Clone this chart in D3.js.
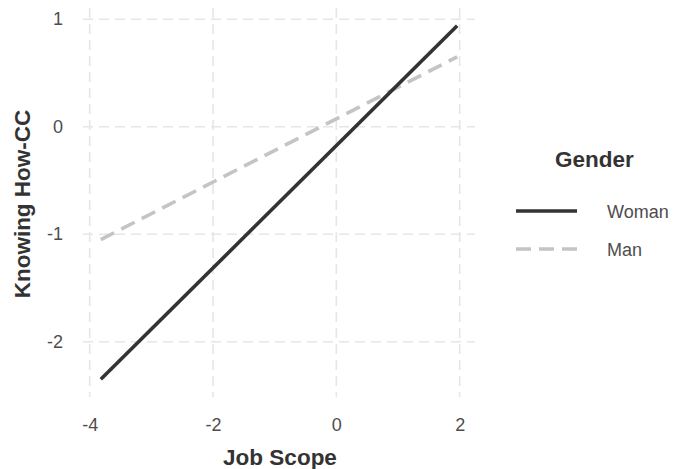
<!DOCTYPE html>
<html>
<head>
<meta charset="utf-8">
<script src="https://cdn.jsdelivr.net/npm/d3@7"></script>
<style>
  body { margin: 0; background: #fff; }
  text { font-family: "Liberation Sans", Arial, sans-serif; }
</style>
</head>
<body>
<svg id="chart"></svg>
<script>
// data
var genders = ["Woman", "Man"];
var jobScope = [-3.82, 1.96];
var womanValues = [-2.35, 0.94];
var manValues = [-1.05, 0.65];
var xTicks = [-4, -2, 0, 2];
var yTicks = [-2, -1, 0, 1];

var screen = {width: 673, height: 469};
var panel = {left: 83, right: 475, top: 8, bottom: 397};

var svg = d3.select("#chart")
    .attr("width", screen.width)
    .attr("height", screen.height);

// ggplot style 5% expansion
var xExt = d3.extent(jobScope);
var xPad = (xExt[1] - xExt[0]) * 0.05;
var allY = womanValues.concat(manValues);
var yExt = d3.extent(allY);
var yPad = (yExt[1] - yExt[0]) * 0.05;

var xScale = d3.scaleLinear()
    .domain([xExt[0] - xPad, xExt[1] + xPad])
    .range([panel.left, panel.right]);
var yScale = d3.scaleLinear()
    .domain([yExt[0] - yPad, yExt[1] + yPad])
    .range([panel.bottom, panel.top]);

var gridColor = "#e6e6e6";

// grid
var grid = svg.append("g").attr("class", "grid");
grid.selectAll("line.v")
    .data(xTicks)
    .enter()
    .append("line")
    .attr("x1", function(d){ return xScale(d); })
    .attr("x2", function(d){ return xScale(d); })
    .attr("y1", panel.top)
    .attr("y2", panel.bottom)
    .attr("stroke", gridColor)
    .attr("stroke-width", 1.6)
    .attr("stroke-dasharray", "10,6");
grid.selectAll("line.h")
    .data(yTicks)
    .enter()
    .append("line")
    .attr("y1", function(d){ return yScale(d); })
    .attr("y2", function(d){ return yScale(d); })
    .attr("x1", panel.left)
    .attr("x2", panel.right)
    .attr("stroke", gridColor)
    .attr("stroke-width", 1.6)
    .attr("stroke-dasharray", "10,6");

// axes (text only, like theme_minimal)
var fmt = function(d){ return String(d); };
var xAxis = d3.axisBottom(xScale).tickValues(xTicks).tickFormat(fmt).tickSize(0).tickPadding(0);
var yAxis = d3.axisLeft(yScale).tickValues(yTicks).tickFormat(fmt).tickSize(0).tickPadding(0);

var gx = svg.append("g")
    .attr("transform", "translate(0,431)")
    .call(xAxis);
var gy = svg.append("g")
    .attr("transform", "translate(" + (panel.left - 20) + ",0)")
    .call(yAxis);
[gx, gy].forEach(function(g){
    g.select(".domain").remove();
    g.selectAll("text")
        .attr("fill", "#4d4d4d")
        .style("font-size", "18px");
});
gx.selectAll("text").attr("dy", "0");

// lines
var series = [
    {name: "Woman", values: womanValues, color: "#333333", dash: null},
    {name: "Man", values: manValues, color: "#c4c4c4", dash: "15,8"}
];

var line = d3.line()
    .x(function(d){ return xScale(d[0]); })
    .y(function(d){ return yScale(d[1]); });

svg.append("g").selectAll("path")
    .data(series.slice().reverse())
    .enter()
    .append("path")
    .attr("d", function(s){ return line(d3.zip(jobScope, s.values)); })
    .attr("fill", "none")
    .attr("stroke", function(s){ return s.color; })
    .attr("stroke-width", 3.6)
    .attr("stroke-dasharray", function(s){ return s.dash; });

// axis titles
svg.append("text")
    .text("Job Scope")
    .attr("text-anchor", "middle")
    .attr("x", 280)
    .attr("y", 465)
    .attr("fill", "#333")
    .style("font-size", "22.5px")
    .style("font-weight", "bold");

svg.append("text")
    .text("Knowing How-CC")
    .attr("text-anchor", "middle")
    .attr("transform", "translate(30,204) rotate(-90)")
    .attr("fill", "#333")
    .style("font-size", "22.5px")
    .style("font-weight", "bold");

// legend
var legend = svg.append("g").attr("transform", "translate(516,0)");
legend.append("text")
    .text("Gender")
    .attr("x", 39)
    .attr("y", 167)
    .attr("fill", "#333")
    .style("font-size", "22.5px")
    .style("font-weight", "bold");

var entries = legend.selectAll("g.entry")
    .data(series)
    .enter()
    .append("g")
    .attr("transform", function(s, i){ return "translate(0," + (211 + i * 38) + ")"; });
entries.append("line")
    .attr("x1", 0)
    .attr("x2", 61)
    .attr("stroke", function(s){ return s.color; })
    .attr("stroke-width", 3.6)
    .attr("stroke-dasharray", function(s){ return s.dash; });
entries.append("text")
    .text(function(s){ return s.name; })
    .attr("x", 91)
    .attr("y", 7)
    .attr("fill", "#4d4d4d")
    .style("font-size", "18px");
</script>
</body>
</html>
